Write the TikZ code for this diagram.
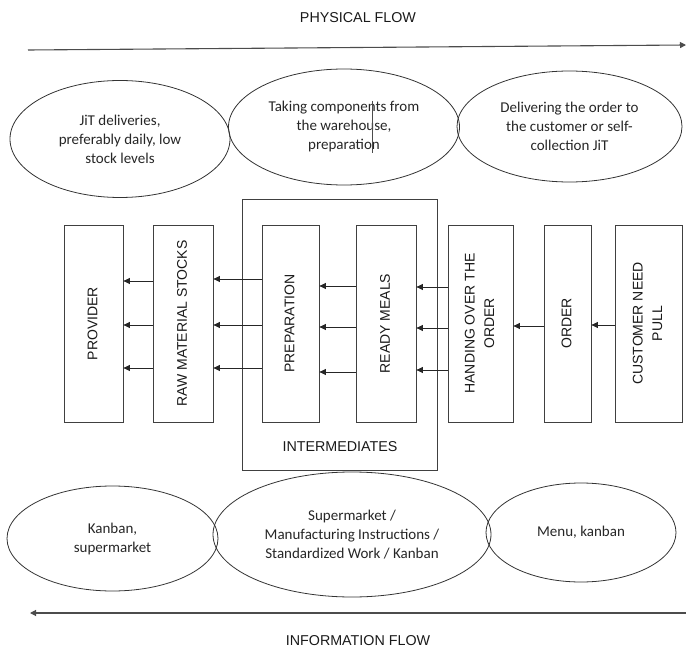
\documentclass[tikz,border=0pt]{standalone}
\usepackage{fontspec}
\setmainfont{Liberation Sans}
\newfontfamily\ellfont{Carlito}
\usetikzlibrary{shapes.geometric,arrows.meta}
\tikzset{
  stagebox/.style={draw=black!75, line width=0.8pt, minimum height=197pt, inner sep=0pt,
    font=\fontsize{14}{19.5}\selectfont, text=black!90},
  ell/.style={draw=black!80, line width=0.8pt, ellipse, inner sep=0pt, align=center,
    font=\ellfont\fontsize{15}{19}\selectfont, text=black!85},
  arr/.style={draw=black!85, line width=0.8pt, -{Triangle[length=6.5pt,width=6pt]}},
  flow/.style={draw=black!70, line width=1.1pt, -{Triangle[length=6pt,width=6pt]}},
  lbl/.style={font=\fontsize{14.3}{17}\selectfont, inner sep=0pt, text=black!90},
}
\newcommand{\vtext}[1]{\rotatebox{90}{\begin{tabular}{@{}c@{}}#1\end{tabular}}}
\begin{document}
\begin{tikzpicture}[x=1pt,y=-1pt]
\useasboundingbox (0,0) rectangle (686,650);

% physical flow
\node[lbl] (pflabel) at (358,18) {PHYSICAL FLOW};
\coordinate (pfs) at (28,50);
\coordinate (pfe) at (686,45);
\draw[flow] (pfs) -- (pfe);

% top ellipses
\node[ell, minimum width=220pt, minimum height=117pt] (e1) at (120,139) {JiT deliveries,\\preferably daily, low\\stock levels};
\node[ell, minimum width=231pt, minimum height=116pt] (e2) at (344,127) {Taking components from\\the warehouse,\\preparation};
\node[ell, minimum width=225pt, minimum height=111pt] (e3) at (569.5,126.5) {Delivering the order to\\the customer or self-\\collection JiT};
\coordinate (cur1) at (372,101);
\coordinate (cur2) at (372,153);
\draw[black!70, line width=0.5pt] (cur1) -- (cur2);

% intermediates frame
\node[draw=black!75, line width=0.8pt, minimum width=195pt, minimum height=271pt, inner sep=0pt] (inter) at (339.5,334.5) {};
\node[lbl] (interlabel) at (340,447) {INTERMEDIATES};

% stage boxes
\node[stagebox, minimum width=59pt] (prov) at (93.5,323.5) {\vtext{PROVIDER}};
\node[stagebox, minimum width=60pt] (raw) at (183,323.5) {\vtext{RAW MATERIAL STOCKS}};
\node[stagebox, minimum width=57pt] (prep) at (290.5,323.5) {\vtext{PREPARATION}};
\node[stagebox, minimum width=60pt] (ready) at (386,323.5) {\vtext{READY MEALS}};
\node[stagebox, minimum width=65pt] (hand) at (480.5,323.5) {\vtext{HANDING OVER THE\\ORDER}};
\node[stagebox, minimum width=47pt] (order) at (567.5,323.5) {\vtext{ORDER}};
\node[stagebox, minimum width=67pt] (cust) at (648.5,323.5) {\vtext{CUSTOMER NEED\\PULL}};

% arrows
\foreach \yy in {281,325,368} \draw[arr] (raw.west |- 0,\yy) -- (prov.east |- 0,\yy);
\foreach \yy in {279,325,368} \draw[arr] (prep.west |- 0,\yy) -- (raw.east |- 0,\yy);
\foreach \yy in {286,327,372} \draw[arr] (ready.west |- 0,\yy) -- (prep.east |- 0,\yy);
\foreach \yy in {287,328,370} \draw[arr] (hand.west |- 0,\yy) -- (ready.east |- 0,\yy);
\draw[arr] (order.west |- 0,326) -- (hand.east |- 0,326);
\draw[arr] (cust.west |- 0,325) -- (order.east |- 0,325);

% bottom ellipses
\node[ell, minimum width=211pt, minimum height=105pt] (b1) at (112.5,538.5) {Kanban,\\supermarket};
\node[ell, minimum width=278pt, minimum height=125pt] (b2) at (352,534.5) {Supermarket /\\Manufacturing Instructions /\\Standardized Work / Kanban};
\node[ell, minimum width=190pt, minimum height=99pt] (b3) at (581,532.5) {Menu, kanban};

% information flow
\coordinate (ifs) at (686,613);
\coordinate (ife) at (30,613);
\draw[flow] (ifs) -- (ife);
\node[lbl] (iflabel) at (358,641) {INFORMATION FLOW};
\end{tikzpicture}
\end{document}
